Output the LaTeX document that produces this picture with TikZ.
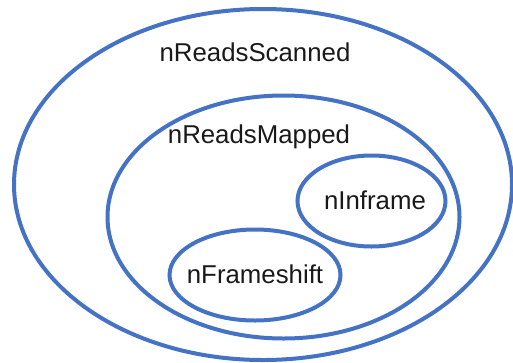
\documentclass[tikz,border=0pt]{standalone}
\usepackage{fontspec}
\setmainfont{Liberation Sans}
\usetikzlibrary{shapes.geometric}
\definecolor{setblue}{RGB}{68,114,196}
\begin{document}
\begin{tikzpicture}[x=1pt,y=-1pt,
  setring/.style={draw=setblue, line width=4pt, ellipse, inner sep=0pt, outer sep=0pt},
  setlabel/.style={font=\fontsize{25.8}{30}\selectfont, text=black!90, anchor=base, inner sep=0pt}]
\useasboundingbox (0,0) rectangle (513,362);
\node[setring, minimum width=498, minimum height=351] (scanned) at (263,184.5) {};
\node[setring, minimum width=352, minimum height=243] (mapped) at (283.5,217) {};
\node[setring, minimum width=148, minimum height=91] (inframe) at (371.5,201) {};
\node[setring, minimum width=171, minimum height=91] (frameshift) at (255,275) {};
\node[setlabel] (lscanned) at (255,61.5) {nReadsScanned};
\node[setlabel] (lmapped) at (259,143) {nReadsMapped};
\node[setlabel] (linframe) at (375,209) {nInframe};
\node[setlabel] (lframeshift) at (255,283) {nFrameshift};
\end{tikzpicture}
\end{document}
